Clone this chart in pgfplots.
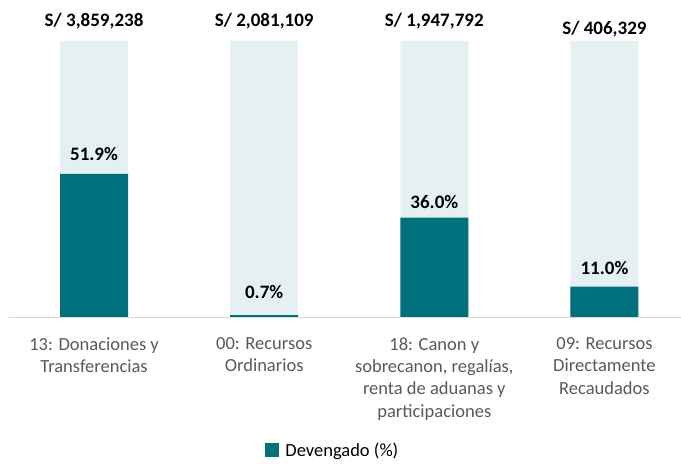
\documentclass[border=0pt]{standalone}
\usepackage{pgfplots}
\usepackage{pgfplotstable}
\pgfplotsset{compat=1.18}
\usepackage{fontspec}
\setmainfont{Carlito}
\definecolor{teal1}{HTML}{00717C}
\definecolor{lightbar}{HTML}{E4F0F1}
\definecolor{ticktext}{HTML}{595959}
\definecolor{axisgray}{HTML}{D9D9D9}
\pgfplotstableread[col sep=comma]{
x,y,lab,dy
0,100,{S/ 3,859,238},8.5
1,100,{S/ 2,081,109},8.5
2,100,{S/ 1,947,792},8
3,100,{S/ 406,329},0
}\totaltab
\pgfplotstableread[col sep=comma]{
x,y,lab,dy
0,51.9,51.9\%,10
1,0.7,0.7\%,13
2,36.0,36.0\%,5.5
3,11.0,11.0\%,8
}\devtab
\begin{document}
\begin{tikzpicture}
\useasboundingbox (0,0) rectangle (681bp,470bp);
\begin{axis}[
  at={(9bp,153bp)}, anchor=south west,
  scale only axis, width=672bp, height=276bp,
  xmin=-0.5, xmax=3.45, ymin=0, ymax=100,
  axis y line=none, axis x line*=bottom,
  x axis line style={draw=axisgray, line width=1pt, -},
  major tick length=0pt,
  xtick={0,1,2,3},
  xticklabels={{13: Donaciones y\\Transferencias},{00: Recursos\\Ordinarios},{18: Canon y\\sobrecanon, regalías,\\renta de aduanas y\\participaciones},{09: Recursos\\Directamente\\Recaudados}},
  xticklabel style={align=center, font=\fontsize{18.5bp}{22.3bp}\selectfont, text=ticktext, yshift=-17bp},
  ybar, bar width=68bp, bar shift=0pt,
  clip=false,
  legend style={at={(0.482,-0.482)}, anchor=center, draw=none, font=\fontsize{18.5bp}{22bp}\selectfont, text=black, inner sep=0pt},
  legend image code/.code={\fill[#1] (0bp,-7bp) rectangle (14bp,7bp); \path (18bp,0bp);},
]
\addplot[fill=lightbar, draw=none, forget plot,
  point meta=explicit symbolic,
  visualization depends on={\thisrow{dy} \as \dy},
  nodes near coords, nodes near coords style={font=\fontsize{19bp}{22bp}\selectfont\bfseries, text=black, anchor=south, yshift=\dy bp}]
  table[x=x, y=y, meta=lab] {\totaltab};
\addplot[fill=teal1, draw=none,
  point meta=explicit symbolic,
  visualization depends on={\thisrow{dy} \as \dy},
  nodes near coords, nodes near coords style={font=\fontsize{19bp}{22bp}\selectfont\bfseries, text=black, anchor=south, yshift=\dy bp}]
  table[x=x, y=y, meta=lab] {\devtab};
\legend{Devengado (\%)}
\end{axis}
\end{tikzpicture}
\end{document}
